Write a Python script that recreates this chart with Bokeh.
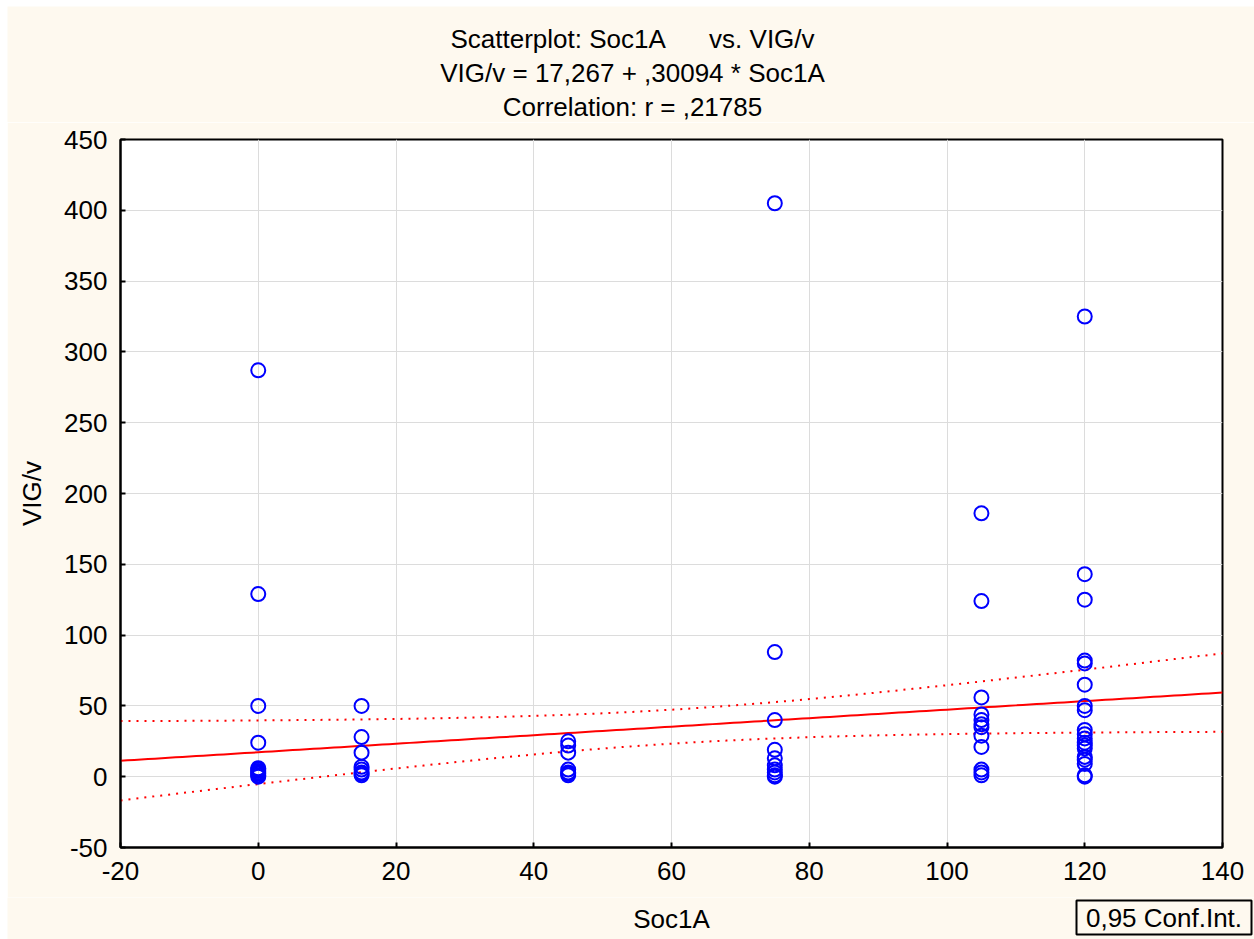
import numpy as np
from bokeh.plotting import figure
from bokeh.layouts import column
from bokeh.models import Range1d, Label, FixedTicker, ColumnDataSource, BoxAnnotation
from bokeh.embed import file_html
from bokeh.resources import INLINE

# ---- data ----
soc_levels = [0, 15, 45, 75, 105, 120]
vig_at_0 = [287, 129, 50, 24, 6, 5, 4, 3, 2, 1, 0]
vig_at_15 = [50, 28, 17, 7, 5, 3, 2, 1]
vig_at_45 = [25, 22, 17, 5, 3, 2, 1]
vig_at_75 = [405, 88, 40, 19, 13, 8, 5, 3, 1, 0]
vig_at_105 = [186, 124, 56, 44, 40, 37, 35, 29, 21, 5, 3, 1]
vig_at_120 = [325, 143, 125, 82, 80, 65, 50, 47, 33, 30, 27, 24, 22, 20, 14, 12, 9, 1, 0]
vig_groups = [vig_at_0, vig_at_15, vig_at_45, vig_at_75, vig_at_105, vig_at_120]

intercept = 17.267
slope = 0.30094
ci_center_x = 60.5
ci_half_at_center = 12.0
ci_half_at_minus20 = 28.0

x_ticks = [-20, 0, 20, 40, 60, 80, 100, 120, 140]
y_ticks = [-50, 0, 50, 100, 150, 200, 250, 300, 350, 400, 450]

title_lines = ["Scatterplot: Soc1A\u00a0\u00a0\u00a0\u00a0\u00a0 vs. VIG/v",
               "VIG/v = 17,267 + ,30094 * Soc1A",
               "Correlation: r = ,21785"]
x_label = "Soc1A"
y_label = "VIG/v"
legend_text = "0,95 Conf.Int."

CREAM = "#FEF9EF"
FONT = "Liberation Sans"
FS = "26px"

# layout (pixels)
W = 1247
TOP_H, MAIN_H, BOT_H = 116, 775, 42
MB_LEFT, MB_RIGHT, MB_TOP, MB_BOTTOM = 113, 32, 17, 50
TITLE_CENTER_X = 625

xs, ys = [], []
for lvl, grp in zip(soc_levels, vig_groups):
    xs += [lvl] * len(grp)
    ys += grp
src = ColumnDataSource(dict(x=xs, y=ys))


def strip(h, margin):
    f = figure(width=W, height=h, output_backend="svg", toolbar_location=None,
               x_range=Range1d(0, W), y_range=Range1d(h, 0),
               x_axis_type=None, y_axis_type=None, min_border=0,
               background_fill_color=CREAM, border_fill_color=CREAM,
               outline_line_color=None, margin=margin, frame_align=False)
    f.grid.visible = False
    return f


# ---- titles strip ----
top = strip(TOP_H, (6, 0, 0, 7))
for txt, ty in zip(title_lines, [32, 66, 100]):
    top.add_layout(Label(x=TITLE_CENTER_X, y=ty, text=txt, text_font=FONT, text_font_size=FS,
                         text_color="black", text_align="center", text_baseline="middle"))

# ---- main plot ----
p = figure(width=W, height=MAIN_H, output_backend="svg", toolbar_location=None,
           x_range=Range1d(-20, 140), y_range=Range1d(-50, 450),
           min_border_left=MB_LEFT, min_border_right=MB_RIGHT,
           min_border_top=MB_TOP, min_border_bottom=MB_BOTTOM,
           background_fill_color="white", border_fill_color=CREAM,
           outline_line_color="black", outline_line_width=2,
           margin=(0, 0, 0, 7), frame_align=False)

for ax, ticks in [(p.xaxis[0], x_ticks), (p.yaxis[0], y_ticks)]:
    ax.ticker = FixedTicker(ticks=ticks)
    ax.major_label_overrides = {t: str(t) for t in ticks}
    ax.major_label_text_font = FONT
    ax.major_label_text_font_size = FS
    ax.major_label_text_color = "black"
    ax.major_tick_in = 5
    ax.major_tick_out = 0
    ax.minor_tick_in = 0
    ax.minor_tick_out = 0
    ax.axis_line_color = "black"
    ax.axis_line_width = 2
    ax.major_tick_line_width = 2

p.yaxis.axis_label = y_label
p.yaxis.axis_label_text_font = FONT
p.yaxis.axis_label_text_font_size = FS
p.yaxis.axis_label_text_font_style = "normal"
p.yaxis.axis_label_text_color = "black"
p.xaxis.major_label_standoff = 14
p.yaxis.major_label_standoff = 13
p.yaxis.axis_label_standoff = 14

p.xgrid.ticker = FixedTicker(ticks=x_ticks)
p.ygrid.ticker = FixedTicker(ticks=y_ticks)
p.grid.grid_line_color = "#DCDCDC"
p.grid.grid_line_width = 1

# regression line and confidence band
gx = np.linspace(-20, 140, 161)
fit = intercept + slope * gx
b = (ci_half_at_minus20 ** 2 - ci_half_at_center ** 2) / (-20 - ci_center_x) ** 2
hw = np.sqrt(ci_half_at_center ** 2 + b * (gx - ci_center_x) ** 2)
p.line(gx, fit, line_color="red", line_width=2)
p.line(gx, fit + hw, line_color="red", line_width=2, line_dash="2 6")
p.line(gx, fit - hw, line_color="red", line_width=2, line_dash="2 6")

p.scatter("x", "y", source=src, marker="circle", size=14, fill_color=None,
          line_color="#0000FF", line_width=2)

# ---- bottom strip: x-axis title and the "0,95 Conf.Int." box ----
bot = strip(BOT_H, (0, 0, 0, 7))
frame_center_x = MB_LEFT + (W - MB_LEFT - MB_RIGHT) / 2
bot.add_layout(Label(x=frame_center_x, y=21, text=x_label, text_font=FONT, text_font_size=FS,
                     text_color="black", text_align="center", text_baseline="middle"))
box_left, box_right = 1069, 1244
bot.add_layout(BoxAnnotation(left=box_left, right=box_right, top=3, bottom=37,
                             fill_color=CREAM, fill_alpha=1, line_color="black",
                             line_alpha=1, line_width=2))
bot.add_layout(Label(x=(box_left + box_right) / 2, y=20, text=legend_text, text_font=FONT,
                     text_font_size=FS, text_color="black", text_align="center",
                     text_baseline="middle"))

layout = column(top, p, bot, spacing=0)
open("out.html", "w").write(file_html(layout, INLINE))
